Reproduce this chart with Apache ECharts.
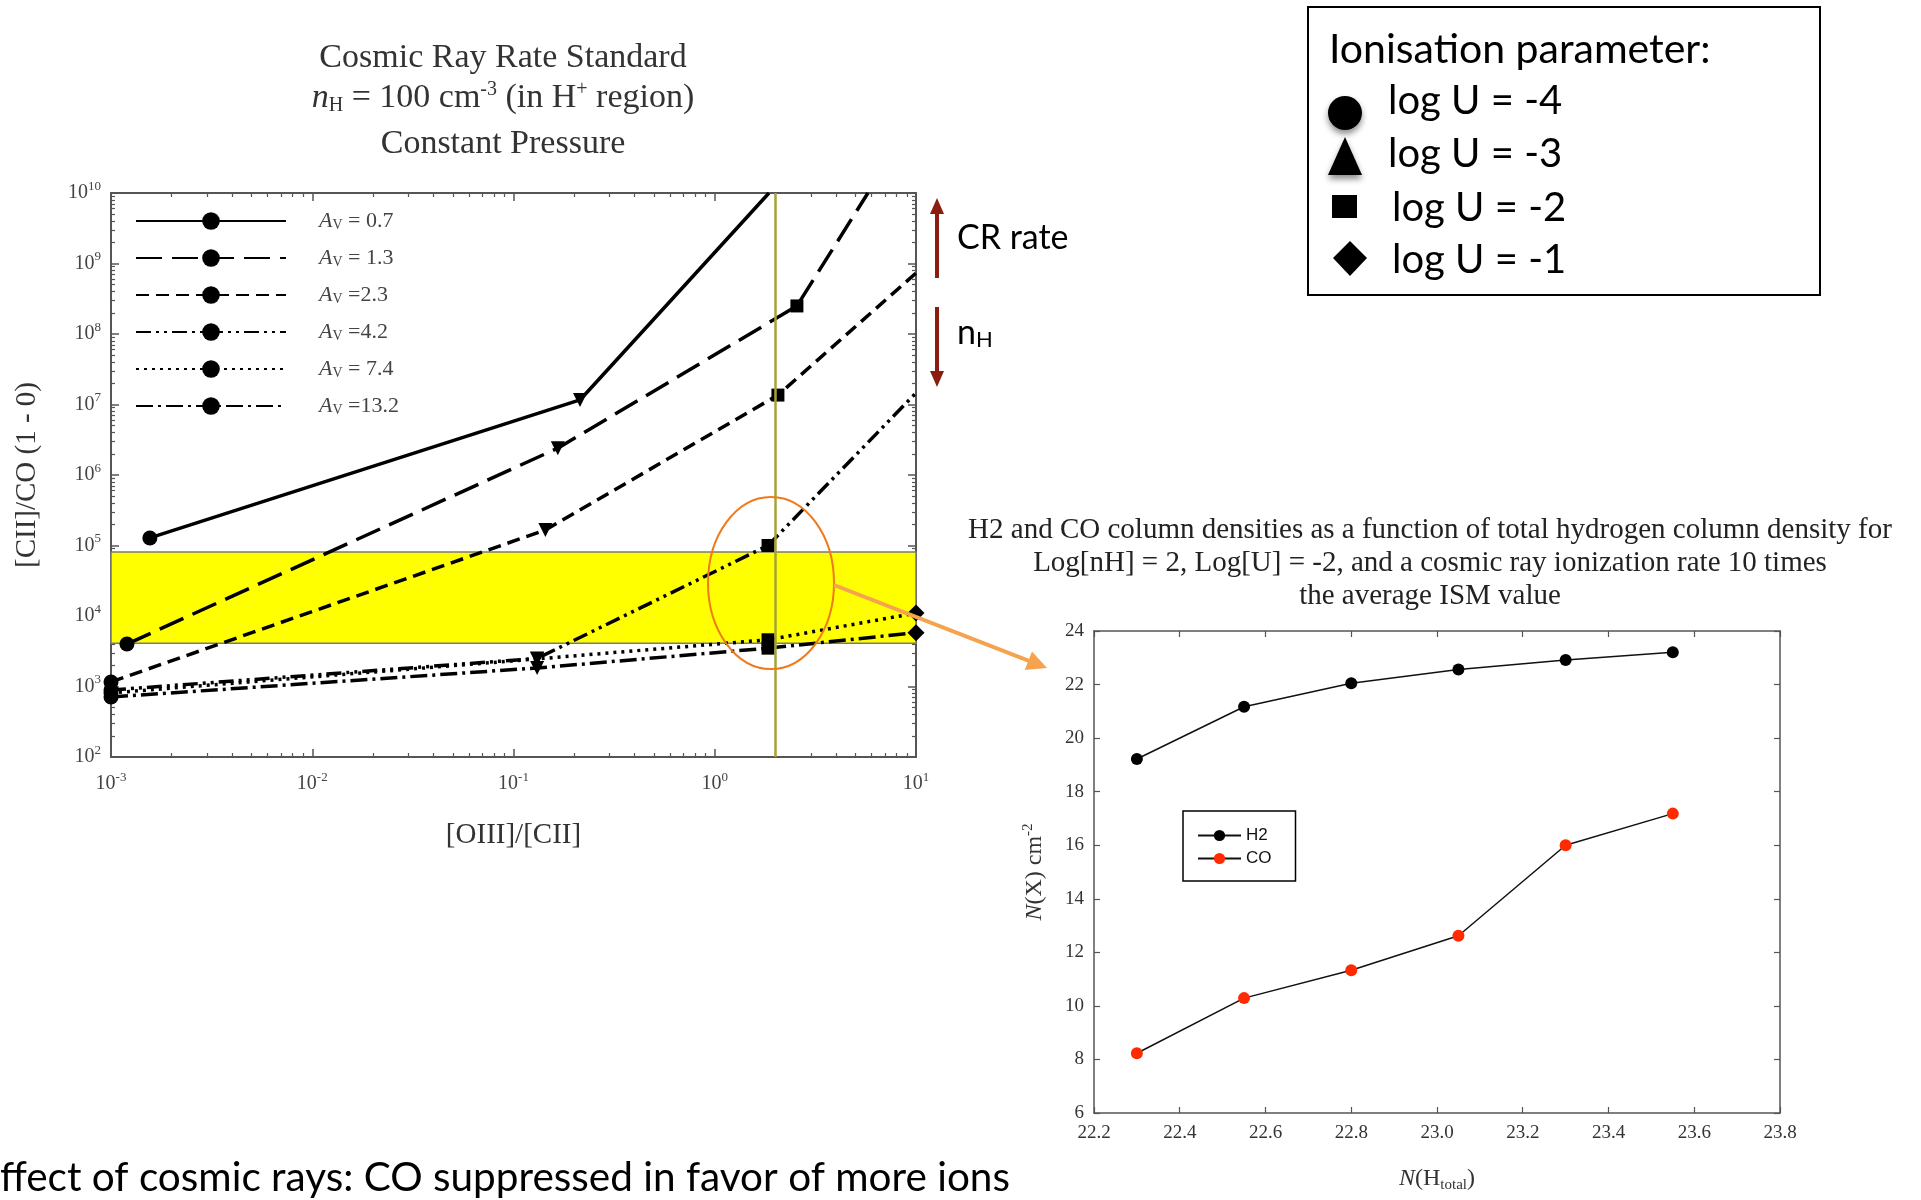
<!DOCTYPE html>
<html>
<head>
<meta charset="utf-8">
<script src="https://cdn.jsdelivr.net/npm/echarts@6/dist/echarts.min.js"></script>
<style>
  html, body { margin: 0; padding: 0; background: #fff; }
  #main { width: 1921px; height: 1200px; }
</style>
</head>
<body>
<div id="main"></div>
<script>
// ---- Left panel: [CII]/CO(1-0) vs [OIII]/[CII] model tracks, one per A_V ----
// Each point is one ionisation parameter; u = log U of the point,
// null marks where a track runs out of the frame (no marker there).
const avNames = ['A_V = 0.7', 'A_V = 1.3', 'A_V =2.3', 'A_V =4.2', 'A_V = 7.4', 'A_V =13.2'];

const av07X = [1.56e-3, 0.214, 1.86];
const av07Y = [1.28e5, 1.16e7, 1.0e10];
const av07U = [-4, -3, null];

const av13X = [1.2e-3, 0.166, 2.56, 5.77];
const av13Y = [4.0e3, 2.4e6, 2.5e8, 1.0e10];
const av13U = [-4, -3, -2, null];

const av23X = [1.0e-3, 0.144, 2.06, 10];
const av23Y = [1.16e3, 1.66e5, 1.36e7, 7.3e8];
const av23U = [-4, -3, -2, null];

const av42X = [1.0e-3, 0.131, 1.84, 10];
const av42Y = [890, 2.5e3, 1.0e5, 1.46e7];
const av42U = [-4, -3, -2, null];

const av74X = [1.0e-3, 0.131, 1.84, 10];
const av74Y = [810, 2.46e3, 4.6e3, 1.1e4];
const av74U = [-4, -3, -2, -1];

const av132X = [1.0e-3, 0.131, 1.84, 10];
const av132Y = [710, 1.83e3, 3.5e3, 5.8e3];
const av132U = [-4, -3, -2, -1];

// observed [CII]/CO band and the [OIII]/[CII] value marked by the vertical line
const ciiCoBand = [4.1e3, 8.1e4];
const oiiiCiiMarked = 2.0;

// tick positions of the log axes
const xDecades = [1e-3, 1e-2, 1e-1, 1, 10];
const yDecades = [1e2, 1e3, 1e4, 1e5, 1e6, 1e7, 1e8, 1e9, 1e10];
const mantissas = [2, 3, 4, 5, 6, 7, 8, 9];

// ---- Right panel: H2 and CO column densities vs total hydrogen column ----
const nHtotal = [22.3, 22.55, 22.8, 23.05, 23.3, 23.55];
const nH2 = [19.22, 21.17, 22.05, 22.56, 22.92, 23.21];
const nCO = [8.23, 10.29, 11.33, 12.62, 16.0, 17.18];

// -------------------------------------------------------------------------
const SERIF = '"Liberation Serif", "DejaVu Serif", serif';
const SANS = 'Lato, "Open Sans", sans-serif';
const axisColor = '#555';

function minorValues(decades) {
  const out = [];
  for (let i = 0; i < decades.length - 1; i++) {
    mantissas.forEach(m => out.push(+(m * decades[i]).toPrecision(3)));
  }
  return out;
}
const xMinor = minorValues(xDecades);
const yMinor = minorValues(yDecades);

const markerShapes = {
  '-4': { symbol: 'circle', size: 15, rotate: 0 },
  '-3': { symbol: 'triangle', size: 14, rotate: 180 },
  '-2': { symbol: 'rect', size: 13, rotate: 0 },
  '-1': { symbol: 'diamond', size: 17, rotate: 0 }
};

function trackPoints(xs, ys, us) {
  return xs.map((x, i) => {
    const u = us[i];
    if (u === null) return { value: [x, ys[i]], symbol: 'none' };
    const m = markerShapes[String(u)];
    return { value: [x, ys[i]], symbol: m.symbol, symbolSize: m.size, symbolRotate: m.rotate };
  });
}

const tracks = [
  [av07X, av07Y, av07U],
  [av13X, av13Y, av13U],
  [av23X, av23Y, av23U],
  [av42X, av42Y, av42U],
  [av74X, av74Y, av74U],
  [av132X, av132Y, av132U]
];
const dashes = ['solid', [26, 10], [13, 7], [15, 5, 3, 5, 3, 5], [3, 5], [17, 5, 3, 5]];

function decadeLabel(v) {
  const e = Math.round(Math.log10(v));
  return '{b|10}{s|' + e + '}';
}
const decadeRich = {
  b: { fontFamily: SERIF, fontSize: 20, color: '#444', lineHeight: 26 },
  s: { fontFamily: SERIF, fontSize: 13, color: '#444', lineHeight: 13, verticalAlign: 'top' }
};

function logAxes(isX) {
  const min = isX ? 1e-3 : 1e2;
  const max = isX ? 10 : 1e10;
  const major = isX ? xDecades : yDecades;
  const minor = isX ? xMinor : yMinor;
  const sides = isX ? ['bottom', 'top'] : ['left', 'right'];
  const out = [];
  sides.forEach((side, si) => {
    const main = {
      type: 'log', logBase: 10, gridIndex: 0, position: side, min: min, max: max,
      axisLine: { show: true, onZero: false, lineStyle: { color: axisColor, width: 2 } },
      axisTick: { show: true, inside: true, length: 8, customValues: major, lineStyle: { color: axisColor, width: 1.5 } },
      axisLabel: si === 0
        ? { show: true, customValues: major, formatter: decadeLabel, rich: decadeRich, margin: isX ? 14 : 10 }
        : { show: false },
      splitLine: { show: false }
    };
    if (si === 0) {
      main.nameLocation = 'middle';
      if (isX) {
        main.name = '[OIII]/[CII]';
        main.nameGap = 64;
        main.nameTextStyle = { fontFamily: SERIF, fontSize: 29, color: '#333' };
      } else {
        main.name = '[CII]/CO (1 - 0)';
        main.nameGap = 69;
        main.nameTextStyle = { fontFamily: SERIF, fontSize: 29, color: '#333' };
      }
    }
    out.push(main);
    out.push({
      type: 'log', logBase: 10, gridIndex: 0, position: side, min: min, max: max,
      axisLine: { show: false, onZero: false },
      axisTick: { show: true, inside: true, length: 4, customValues: minor, lineStyle: { color: axisColor, width: 1.2 } },
      axisLabel: { show: false },
      splitLine: { show: false }
    });
  });
  return out;
}

function linAxes(isX) {
  const sides = isX ? ['bottom', 'top'] : ['left', 'right'];
  return sides.map((side, si) => ({
    type: 'value', gridIndex: 1, position: side,
    min: isX ? 22.2 : 6, max: isX ? 23.8 : 24, interval: isX ? 0.2 : 2,
    axisLine: { show: true, onZero: false, lineStyle: { color: axisColor, width: 1.5 } },
    axisTick: { show: true, inside: true, length: 6, lineStyle: { color: axisColor, width: 1.2 } },
    axisLabel: si === 0
      ? { show: true, fontFamily: SERIF, fontSize: 19, color: '#333', margin: isX ? 11 : 10,
          formatter: v => isX ? v.toFixed(1) : String(v) }
      : { show: false },
    splitLine: { show: false },
    name: si === 0 ? (isX ? '{i|N}{t|(H}{sb|total}{t|)}' : '{i|N}{t|(X) cm}{sp|-2}') : '',
    nameLocation: 'middle',
    nameGap: isX ? 52 : 45,
    nameTextStyle: {
      rich: {
        i: { fontFamily: SERIF, fontStyle: 'italic', fontSize: 24, color: '#333', lineHeight: 28 },
        t: { fontFamily: SERIF, fontSize: 24, color: '#333', lineHeight: 28 },
        sb: { fontFamily: SERIF, fontSize: 15, color: '#333', lineHeight: 12, verticalAlign: 'bottom' },
        sp: { fontFamily: SERIF, fontSize: 15, color: '#333', lineHeight: 12, verticalAlign: 'top' }
      }
    }
  }));
}

const xAxes = logAxes(true).concat(linAxes(true));   // 0..3 left panel, 4..5 right panel
const yAxes = logAxes(false).concat(linAxes(false));

const trackSeries = tracks.map((t, i) => {
  const s = {
    name: avNames[i], type: 'line', xAxisIndex: 0, yAxisIndex: 0,
    data: trackPoints(t[0], t[1], t[2]),
    symbol: 'circle', symbolSize: 15, clip: true, z: 3,
    itemStyle: { color: '#000' },
    lineStyle: { color: '#000', width: 3.5, type: dashes[i] }
  };
  if (i === 0) {
    s.markArea = {
      silent: true, z: 1,
      itemStyle: { color: '#ffff00', borderColor: '#7a7a7a', borderWidth: 1.5 },
      data: [[{ yAxis: ciiCoBand[0] }, { yAxis: ciiCoBand[1] }]]
    };
    s.markLine = {
      silent: true, symbol: 'none', label: { show: false },
      lineStyle: { color: '#a3a336', width: 2.5, type: 'solid' },
      data: [{ xAxis: oiiiCiiMarked }]
    };
  }
  return s;
});

const columnSeries = [
  { name: 'H2', data: nHtotal.map((x, i) => [x, nH2[i]]), color: '#000' },
  { name: 'CO', data: nHtotal.map((x, i) => [x, nCO[i]]), color: '#ff2a00' }
].map(s => ({
  name: s.name, type: 'line', xAxisIndex: 4, yAxisIndex: 4, data: s.data,
  symbol: 'circle', symbolSize: 12,
  itemStyle: { color: s.color },
  lineStyle: { color: '#111', width: 1.5 }
}));

const avRich = {
  a: { fontFamily: SERIF, fontStyle: 'italic', fontSize: 22, color: '#444', lineHeight: 22, padding: [0, 0, 0, 28] },
  v: { fontFamily: SERIF, fontSize: 14, color: '#444', lineHeight: 8, verticalAlign: 'bottom' },
  t: { fontFamily: SERIF, fontSize: 22, color: '#444', lineHeight: 22 }
};

function arrowHead(tip, dir, len, half) {
  const bx = tip[0] - dir[0] * len, by = tip[1] - dir[1] * len;
  const px = -dir[1], py = dir[0];
  return [[tip[0], tip[1]], [bx + px * half, by + py * half], [bx - px * half, by - py * half]];
}
const orangeDir = (function () {
  const dx = 1047 - 834, dy = 668 - 585, l = Math.hypot(dx, dy);
  return [dx / l, dy / l];
})();

const darkRed = '#8b1c10';
const keyFont = 40;
const graphics = [
  // left panel heading
  { type: 'text', x: 503, y: 58, style: { text: 'Cosmic Ray Rate Standard', fontFamily: SERIF, fontSize: 34, fill: '#333', align: 'center', verticalAlign: 'middle' } },
  { type: 'text', x: 503, y: 98, style: {
      text: '{i|n}{sb|H}{t| = 100 cm}{sp|-3}{t| (in H}{sp|+}{t| region)}',
      align: 'center', verticalAlign: 'middle',
      rich: {
        i: { fontFamily: SERIF, fontStyle: 'italic', fontSize: 34, fill: '#333', lineHeight: 36 },
        t: { fontFamily: SERIF, fontSize: 34, fill: '#333', lineHeight: 36 },
        sb: { fontFamily: SERIF, fontSize: 20, fill: '#333', lineHeight: 16, verticalAlign: 'bottom' },
        sp: { fontFamily: SERIF, fontSize: 20, fill: '#333', lineHeight: 16, verticalAlign: 'top' }
      } } },
  { type: 'text', x: 503, y: 144, style: { text: 'Constant Pressure', fontFamily: SERIF, fontSize: 34, fill: '#333', align: 'center', verticalAlign: 'middle' } },

  // ionisation parameter key
  { type: 'rect', shape: { x: 1308, y: 7, width: 512, height: 288 }, style: { fill: '#fff', stroke: '#000', lineWidth: 2 } },
  { type: 'text', x: 1329, y: 50, style: { text: 'Ionisation parameter:', fontFamily: SANS, fontSize: 41, fill: '#000', verticalAlign: 'middle' } },
  { type: 'circle', shape: { cx: 1345, cy: 113, r: 17 }, style: { fill: '#000', shadowBlur: 6, shadowOffsetY: 4, shadowColor: 'rgba(0,0,0,0.45)' } },
  { type: 'text', x: 1388, y: 101, style: { text: 'log U = -4', fontFamily: SANS, fontSize: keyFont, fill: '#000', verticalAlign: 'middle' } },
  { type: 'polygon', shape: { points: [[1345, 137], [1328, 175], [1362, 175]] }, style: { fill: '#000', shadowBlur: 6, shadowOffsetY: 4, shadowColor: 'rgba(0,0,0,0.45)' } },
  { type: 'text', x: 1388, y: 154, style: { text: 'log U = -3', fontFamily: SANS, fontSize: keyFont, fill: '#000', verticalAlign: 'middle' } },
  { type: 'rect', shape: { x: 1332, y: 195, width: 25, height: 23 }, style: { fill: '#000' } },
  { type: 'text', x: 1392, y: 208, style: { text: 'log U = -2', fontFamily: SANS, fontSize: keyFont, fill: '#000', verticalAlign: 'middle' } },
  { type: 'polygon', shape: { points: [[1350, 241], [1367, 258], [1350, 276], [1333, 258]] }, style: { fill: '#000' } },
  { type: 'text', x: 1392, y: 260, style: { text: 'log U = -1', fontFamily: SANS, fontSize: keyFont, fill: '#000', verticalAlign: 'middle' } },

  // direction arrows for cosmic-ray rate and density
  { type: 'line', shape: { x1: 937, y1: 278, x2: 937, y2: 210 }, style: { stroke: darkRed, lineWidth: 4 } },
  { type: 'polygon', shape: { points: [[937, 198], [930, 214], [944, 214]] }, style: { fill: darkRed } },
  { type: 'line', shape: { x1: 937, y1: 307, x2: 937, y2: 375 }, style: { stroke: darkRed, lineWidth: 4 } },
  { type: 'polygon', shape: { points: [[937, 387], [930, 371], [944, 371]] }, style: { fill: darkRed } },
  { type: 'text', x: 957, y: 238, style: { text: 'CR rate', fontFamily: SANS, fontSize: 34, fill: '#000', verticalAlign: 'middle' } },
  { type: 'text', x: 957, y: 333, style: {
      text: '{n|n}{h|H}', verticalAlign: 'middle',
      rich: {
        n: { fontFamily: SANS, fontSize: 34, fill: '#000', lineHeight: 36 },
        h: { fontFamily: SANS, fontSize: 22, fill: '#000', lineHeight: 14, verticalAlign: 'bottom' }
      } } },

  // highlight of the marked model and pointer to the right panel
  { type: 'ellipse', shape: { cx: 771, cy: 583, rx: 63, ry: 86 }, style: { fill: 'none', stroke: '#f07a1a', lineWidth: 2 }, z: 10 },
  { type: 'line', shape: { x1: 834, y1: 585, x2: 1047 - orangeDir[0] * 18, y2: 668 - orangeDir[1] * 18 }, style: { stroke: '#f5a34e', lineWidth: 4 }, z: 10 },
  { type: 'polygon', shape: { points: arrowHead([1047, 668], orangeDir, 20, 10) }, style: { fill: '#f5a34e' }, z: 10 },

  // right panel heading
  { type: 'text', x: 1430, y: 530, style: { text: 'H2 and CO column densities as a function of total hydrogen column density for', fontFamily: SERIF, fontSize: 29, fill: '#222', align: 'center', verticalAlign: 'middle' } },
  { type: 'text', x: 1430, y: 563, style: { text: 'Log[nH] = 2, Log[U] = -2, and a cosmic ray ionization rate 10 times', fontFamily: SERIF, fontSize: 29, fill: '#222', align: 'center', verticalAlign: 'middle' } },
  { type: 'text', x: 1430, y: 596, style: { text: 'the average ISM value', fontFamily: SERIF, fontSize: 29, fill: '#222', align: 'center', verticalAlign: 'middle' } },

  // caption
  { type: 'text', x: 1010, y: 1178, style: { text: 'Effect of cosmic rays: CO suppressed in favor of more ions', fontFamily: SANS, fontSize: 40.5, fill: '#000', align: 'right', verticalAlign: 'middle' } }
];

const option = {
  animation: false,
  backgroundColor: '#fff',
  grid: [
    { left: 111, top: 193, width: 805, height: 564, show: false },
    { left: 1094, top: 631, width: 686, height: 482, show: false }
  ],
  xAxis: xAxes,
  yAxis: yAxes,
  legend: [
    {
      orient: 'vertical', left: 135, top: 210, padding: 0,
      itemWidth: 150, itemHeight: 22, itemGap: 15, selectedMode: false,
      data: avNames,
      formatter: name => '{a|A}{v|V}{t|' + name.slice(3) + '}',
      textStyle: { rich: avRich }
    },
    {
      orient: 'vertical', left: 1183, top: 811, padding: [16, 24, 14, 14],
      borderColor: '#000', borderWidth: 1.5, backgroundColor: '#fff',
      itemWidth: 43, itemHeight: 14, itemGap: 6, selectedMode: false,
      data: ['H2', 'CO'],
      textStyle: { fontFamily: '"Liberation Sans", Arial, sans-serif', fontSize: 17, color: '#111' }
    }
  ],
  series: trackSeries.concat(columnSeries),
  graphic: { elements: graphics }
};

const chart = echarts.init(document.getElementById('main'), null, { renderer: 'canvas' });
chart.setOption(option);
</script>
</body>
</html>
